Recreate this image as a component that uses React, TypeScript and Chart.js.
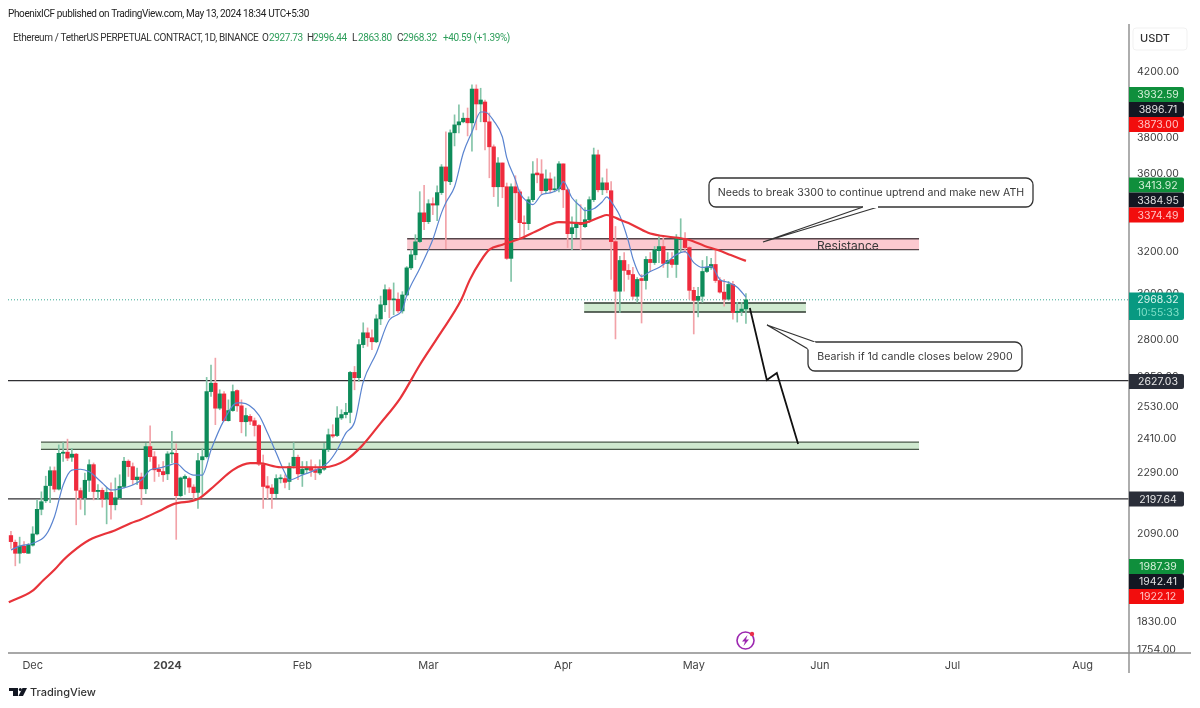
import React, { useEffect, useRef } from "react";
import { Chart, registerables } from "chart.js";

Chart.register(...registerables);

// ETHUSDT perp daily candles, Nov 26 2023 -> May 13 2024. Days are counted from Dec 1 2023
const firstCandleDay = -5;

const opens = [
  2079, 2058, 2024, 2046, 2024, 2049, 2084, 2163, 2191, 2242,
  2293, 2230, 2354, 2358, 2340, 2351, 2225, 2201, 2260, 2314,
  2222, 2226, 2197, 2219, 2178, 2201, 2239, 2326, 2307, 2262,
  2271, 2231, 2378, 2342, 2298, 2290, 2282, 2352, 2354, 2208,
  2266, 2266, 2237, 2219, 2331, 2342, 2584, 2617, 2520, 2575,
  2473, 2511, 2588, 2529, 2469, 2489, 2473, 2455, 2314, 2241,
  2234, 2215, 2265, 2266, 2256, 2310, 2340, 2282, 2296, 2305,
  2296, 2285, 2298, 2368, 2421, 2418, 2483, 2496, 2504, 2660,
  2639, 2774, 2824, 2803, 2786, 2884, 2946, 3014, 2968, 2971,
  2919, 2990, 3115, 3177, 3241, 3385, 3340, 3432, 3425, 3490,
  3628, 3548, 3820, 3866, 3884, 3905, 3878, 4081, 3990, 4002,
  3884, 3740, 3521, 3650, 3521, 3160, 3521, 3494, 3335, 3330,
  3453, 3595, 3590, 3500, 3563, 3505, 3510, 3645, 3505, 3280,
  3310, 3330, 3315, 3350, 3453, 3695, 3505, 3542, 3500, 3241,
  3007, 3150, 3103, 3084, 2984, 3065, 3056, 3155, 3140, 3197,
  3217, 3136, 3155, 3131, 3251, 3256, 3212, 3011, 2966, 2984,
  3098, 3117, 3131, 3056, 3003, 2971, 3038, 2912, 2917, 2927.73,
];

const highs = [
  2092, 2065, 2074, 2060, 2054, 2107, 2194, 2221, 2274, 2306,
  2306, 2384, 2392, 2405, 2372, 2354, 2234, 2285, 2331, 2320,
  2245, 2234, 2234, 2251, 2268, 2279, 2340, 2331, 2320, 2302,
  2285, 2390, 2454, 2360, 2314, 2325, 2360, 2433, 2388, 2271,
  2279, 2271, 2245, 2354, 2372, 2640, 2690, 2718, 2591, 2584,
  2552, 2610, 2591, 2552, 2520, 2496, 2483, 2458, 2348, 2273,
  2245, 2279, 2279, 2279, 2320, 2392, 2348, 2325, 2325, 2331,
  2314, 2331, 2390, 2442, 2458, 2526, 2514, 2539, 2664, 2684,
  2795, 2867, 2845, 2837, 2902, 2985, 3036, 3023, 3045, 3000,
  3005, 3121, 3201, 3275, 3495, 3528, 3453, 3463, 3526, 3641,
  3825, 3837, 3925, 3985, 3936, 3966, 4107, 4107, 4086, 4014,
  3936, 3751, 3680, 3650, 3541, 3536, 3580, 3505, 3370, 3468,
  3657, 3674, 3668, 3612, 3596, 3574, 3657, 3645, 3515, 3365,
  3453, 3427, 3412, 3468, 3733, 3722, 3569, 3617, 3548, 3316,
  3170, 3188, 3131, 3117, 3070, 3084, 3169, 3188, 3217, 3266,
  3261, 3188, 3188, 3276, 3355, 3286, 3217, 3025, 3025, 3150,
  3169, 3160, 3202, 3070, 3061, 3052, 3052, 2957, 2957, 2996.44,
];

const lows = [
  2039, 1986, 1994, 2024, 2024, 2046, 2081, 2145, 2185, 2185,
  2221, 2227, 2325, 2328, 2325, 2113, 2163, 2145, 2222, 2194,
  2195, 2170, 2116, 2131, 2161, 2195, 2234, 2273, 2245, 2245,
  2178, 2215, 2325, 2256, 2273, 2256, 2262, 2320, 2067, 2204,
  2212, 2218, 2197, 2166, 2212, 2337, 2565, 2458, 2514, 2471,
  2471, 2508, 2508, 2428, 2416, 2458, 2416, 2310, 2166, 2197,
  2166, 2201, 2251, 2234, 2228, 2302, 2262, 2239, 2285, 2273,
  2262, 2279, 2294, 2360, 2410, 2414, 2477, 2483, 2465, 2591,
  2624, 2761, 2767, 2753, 2782, 2859, 2916, 2889, 2902, 2911,
  2909, 2985, 3106, 3154, 3236, 3300, 3330, 3376, 3345, 3480,
  3207, 3532, 3745, 3820, 3878, 3802, 3716, 3837, 3884, 3722,
  3569, 3469, 3418, 3463, 3155, 3052, 3350, 3261, 3265, 3300,
  3443, 3542, 3479, 3489, 3489, 3494, 3494, 3412, 3212, 3202,
  3261, 3202, 3310, 3335, 3443, 3494, 3479, 3489, 3061, 2798,
  2912, 3007, 3061, 2971, 2957, 2866, 3016, 3098, 3131, 3140,
  3117, 3070, 3117, 3070, 3188, 3188, 2971, 2819, 2892, 2957,
  3093, 3108, 3047, 2998, 2940, 2966, 2883, 2870, 2898, 2863.8,
];

const closes = [
  2060, 2024, 2046, 2026, 2049, 2084, 2163, 2188, 2240, 2293,
  2230, 2354, 2358, 2337, 2351, 2226, 2201, 2260, 2314, 2222,
  2226, 2197, 2219, 2178, 2201, 2239, 2326, 2307, 2262, 2271,
  2231, 2378, 2342, 2296, 2290, 2279, 2352, 2354, 2208, 2268,
  2273, 2237, 2218, 2328, 2342, 2584, 2617, 2520, 2575, 2473,
  2511, 2584, 2529, 2469, 2492, 2471, 2455, 2316, 2239, 2234,
  2215, 2266, 2268, 2253, 2307, 2340, 2282, 2298, 2302, 2294,
  2287, 2298, 2368, 2421, 2416, 2483, 2496, 2504, 2660, 2639,
  2774, 2824, 2803, 2786, 2884, 2946, 3014, 2968, 2971, 2919,
  2990, 3115, 3177, 3240, 3385, 3340, 3432, 3425, 3490, 3628,
  3552, 3820, 3866, 3884, 3905, 3878, 4081, 3990, 4014, 3884,
  3740, 3521, 3650, 3521, 3160, 3521, 3489, 3335, 3330, 3453,
  3590, 3585, 3500, 3563, 3505, 3510, 3645, 3505, 3280, 3310,
  3330, 3325, 3350, 3453, 3695, 3505, 3542, 3505, 3241, 3007,
  3150, 3103, 3084, 2984, 3061, 3056, 3155, 3140, 3202, 3217,
  3136, 3150, 3131, 3256, 3256, 3212, 3011, 2966, 2984, 3098,
  3117, 3131, 3056, 3003, 2971, 3038, 2912, 2917, 2927, 2968.32,
];

// thin blue average
const fastMaDays = [
  -5, -3, 0, 3, 5, 7, 9, 11, 13, 16, 18, 20, 23, 25, 27, 29, 31, 33, 35, 37, 38, 39,
  41, 44, 47, 48, 52, 54, 56, 58, 59, 62, 66, 68, 70, 72, 74, 76, 79, 82, 85, 86, 89,
  91, 92, 94, 95, 97, 99, 101, 103, 104, 106, 108, 109, 111, 112, 114, 115, 117, 119,
  121, 122, 124, 126, 127, 129, 131, 132, 133, 134, 135, 137, 138, 140, 142, 144, 146,
  148, 150, 152, 154, 156, 158, 160, 162, 164,
];
const fastMaValues = [
  2034, 2046, 2055, 2080, 2139, 2244, 2295, 2298, 2289, 2251, 2227, 2231, 2244, 2261,
  2295, 2302, 2310, 2318, 2293, 2278, 2278, 2278, 2366, 2475, 2540, 2540, 2494, 2427,
  2355, 2285, 2261, 2278, 2302, 2323, 2366, 2427, 2467, 2622, 2738, 2879, 2923, 2989,
  3112, 3202, 3251, 3385, 3437, 3521, 3705, 3825, 3942, 3942, 3890, 3796, 3679, 3558,
  3489, 3437, 3427, 3479, 3489, 3510, 3548, 3463, 3417, 3396, 3406, 3443, 3468, 3443,
  3410, 3370, 3241, 3160, 3075, 3098, 3117, 3145, 3178, 3192, 3140, 3117, 3122, 3061,
  3047, 3025, 2980,
];

// thick red average
const slowMaDays = [
  -5.5, 0, 2.5, 5, 7, 9, 13, 19, 22.5, 25, 29, 32.5, 38, 42, 46, 50, 52, 57, 62, 67,
  72, 75.5, 80, 84.5, 89, 93.5, 98.5, 100.5, 103, 105, 108, 112, 116.5, 121, 126.5,
  130.5, 132, 135, 137, 141.5, 144.5, 148.5, 151, 154.5, 157.5, 160.5, 164,
];
const slowMaValues = [
  1880, 1913, 1944, 1974, 2003, 2027, 2065, 2096, 2118, 2131, 2157, 2181, 2197, 2244,
  2295, 2319, 2319, 2305, 2305, 2305, 2330, 2377, 2464, 2558, 2690, 2815, 2967, 3059,
  3148, 3202, 3226, 3255, 3300, 3338, 3333, 3364, 3374, 3350, 3333, 3285, 3270, 3259,
  3249, 3220, 3200, 3176, 3148,
];

const priceTicks = [4200, 3800, 3600, 3200, 3000, 2800, 2650, 2530, 2410, 2290, 2090, 1830, 1754];
const monthTicks = [0, 31, 62, 91, 122, 152, 181, 211.5, 241.4];
const monthLabels = ["Dec", "2024", "Feb", "Mar", "Apr", "May", "Jun", "Jul", "Aug"];

const levelPrices = [2627.03, 2197.64];
const lastPrice = 2968.32;

// drawn projection: days and prices of the hand-drawn arrow
const arrowDays = [164.9, 168.8, 171.1, 176];
const arrowPrices = [2932, 2630, 2658, 2387];

const zones = [
  { from: 86.1, to: 203.8, top: 3255, bottom: 3202, fill: "#fbc9d0", line: "#55454a" },
  { from: 126.8, to: 177.8, top: 2954, bottom: 2914, fill: "#cfe9cf", line: "#2f3a30" },
  { from: 1.9, to: 203.8, top: 2394, bottom: 2368, fill: "#cfe9cf", line: "#4a5a4a" },
];

const priceTags = [
  { text: "3932.59", top: 87, bg: "#0f8f3c", fg: "#d4f0d8" },
  { text: "3896.71", top: 102, bg: "#131722", fg: "#e0e0e0" },
  { text: "3873.00", top: 117, bg: "#f20d0d", fg: "#ffc4c4" },
  { text: "3413.92", top: 177.5, bg: "#0f8f3c", fg: "#d4f0d8" },
  { text: "3384.95", top: 192.5, bg: "#131722", fg: "#e0e0e0" },
  { text: "3374.49", top: 207.5, bg: "#f20d0d", fg: "#ffc4c4" },
  { text: "2627.03", top: 374, bg: "#2a2e39", fg: "#e8e8e8" },
  { text: "2197.64", top: 491.5, bg: "#2a2e39", fg: "#e8e8e8" },
  { text: "1987.39", top: 559, bg: "#0f8f3c", fg: "#d4f0d8" },
  { text: "1942.41", top: 574, bg: "#131722", fg: "#e0e0e0" },
  { text: "1922.12", top: 589, bg: "#f20d0d", fg: "#ffc4c4" },
];

const FONT = "Inter, 'Noto Sans', sans-serif";
const HEADER_FONT = "Roboto, 'Noto Sans', sans-serif";
const UP = "#0e8c5a";
const DOWN = "#ef2b3d";
const UP_WICK = "#83c4a8";
const DOWN_WICK = "#f2a2a8";
const OHLC_GREEN = "#2e9e5b";

const AXIS_X = 1129;
const AXIS_Y = 653;

function pairs(xs: number[], ys: number[]) {
  return xs.map((x, i) => ({ x, y: ys[i] }));
}

function callout(
  ctx: CanvasRenderingContext2D,
  box: { x: number; y: number; w: number; h: number },
  tail: number[][],
  text: string
) {
  ctx.save();
  ctx.fillStyle = "#fff";
  ctx.strokeStyle = "#333";
  ctx.lineWidth = 1.3;
  ctx.beginPath();
  ctx.roundRect(box.x, box.y, box.w, box.h, 7);
  ctx.fill();
  ctx.stroke();
  // tail sits on the box edge, white stroke hides the edge between the two legs
  ctx.beginPath();
  ctx.moveTo(tail[0][0], tail[0][1]);
  ctx.lineTo(tail[1][0], tail[1][1]);
  ctx.lineTo(tail[2][0], tail[2][1]);
  ctx.fill();
  ctx.stroke();
  ctx.strokeStyle = "#fff";
  ctx.lineWidth = 2;
  ctx.beginPath();
  ctx.moveTo(tail[0][0], tail[0][1]);
  ctx.lineTo(tail[2][0], tail[2][1]);
  ctx.stroke();
  ctx.fillStyle = "#3a3a3a";
  ctx.font = `10.6px ${FONT}`;
  ctx.textAlign = "center";
  ctx.textBaseline = "middle";
  ctx.fillText(text, box.x + box.w / 2, box.y + box.h / 2 + 0.5);
  ctx.restore();
}

const drawingsPlugin = {
  id: "drawings",
  beforeDatasetsDraw(chart: any) {
    const { ctx, scales } = chart;
    for (const z of zones) {
      const x0 = scales.x.getPixelForValue(z.from);
      const x1 = scales.x.getPixelForValue(z.to);
      const y0 = scales.y.getPixelForValue(z.top);
      const y1 = scales.y.getPixelForValue(z.bottom);
      ctx.fillStyle = z.fill;
      ctx.fillRect(x0, y0, x1 - x0, y1 - y0);
      ctx.strokeStyle = z.line;
      ctx.lineWidth = 1.3;
      ctx.beginPath();
      ctx.moveTo(x0, y0);
      ctx.lineTo(x1, y0);
      ctx.moveTo(x0, y1);
      ctx.lineTo(x1, y1);
      ctx.stroke();
    }
  },
  afterDatasetsDraw(chart: any) {
    const { ctx } = chart;
    ctx.save();
    ctx.fillStyle = "#3a3a3a";
    ctx.font = `12px ${FONT}`;
    ctx.textAlign = "left";
    ctx.textBaseline = "middle";
    ctx.fillText("Resistance", 817, 246);
    ctx.restore();

    callout(
      ctx,
      { x: 709, y: 178, w: 324, h: 29 },
      [[863, 207], [763, 242], [878, 207]],
      "Needs to break 3300 to continue uptrend and make new ATH"
    );
    callout(
      ctx,
      { x: 808, y: 342, w: 214, h: 29 },
      [[815, 342], [767, 325], [808, 349]],
      "Bearish if 1d candle closes below 2900"
    );
  },
  afterDraw(chart: any) {
    const { ctx } = chart;
    ctx.save();

    ctx.strokeStyle = "#8c8c8c";
    ctx.lineWidth = 1.4;
    ctx.beginPath();
    ctx.moveTo(AXIS_X, 24);
    ctx.lineTo(AXIS_X, 673);
    ctx.moveTo(8, AXIS_Y);
    ctx.lineTo(1191, AXIS_Y);
    ctx.stroke();

    // USDT box
    ctx.strokeStyle = "#f1f1f1";
    ctx.lineWidth = 1;
    ctx.beginPath();
    ctx.roundRect(1133, 28, 54, 22, 3);
    ctx.stroke();
    ctx.fillStyle = "#333";
    ctx.font = `500 11px ${FONT}`;
    ctx.textAlign = "center";
    ctx.textBaseline = "middle";
    ctx.fillText("USDT", 1155, 39);

    // price tags on the axis
    ctx.font = `10.5px ${FONT}`;
    for (const tag of priceTags) {
      ctx.fillStyle = tag.bg;
      ctx.beginPath();
      ctx.roundRect(AXIS_X, tag.top, 55, 15, [0, 2, 2, 0]);
      ctx.fill();
      ctx.fillStyle = tag.fg;
      ctx.fillText(tag.text, 1158, tag.top + 8);
    }
    ctx.fillStyle = "#089981";
    ctx.beginPath();
    ctx.roundRect(AXIS_X, 292.5, 55, 27.5, [0, 2, 2, 0]);
    ctx.fill();
    ctx.fillStyle = "#d8f3ec";
    ctx.fillText("2968.32", 1158, 300);
    ctx.fillStyle = "#7fe0c8";
    ctx.fillText("10:55:33", 1158, 313);

    // header lines
    ctx.textAlign = "left";
    ctx.fillStyle = "#222";
    ctx.font = `10px ${HEADER_FONT}`;
    (ctx as any).letterSpacing = "-0.38px";
    ctx.fillText("PhoenixICF published on TradingView.com, May 13, 2024 18:34 UTC+5:30", 8, 14);

    ctx.fillStyle = "#333";
    ctx.fillText("Ethereum / TetherUS PERPETUAL CONTRACT, 1D, BINANCE", 13, 38);
    const ohlc: [string, string, number, number][] = [
      ["O", "2927.73", 262, 269],
      ["H", "2996.44", 307, 313],
      ["L", "2863.80", 352, 358],
      ["C", "2968.32", 397, 403],
    ];
    for (const [key, val, kx, vx] of ohlc) {
      ctx.fillStyle = "#333";
      ctx.fillText(key, kx, 38);
      ctx.fillStyle = OHLC_GREEN;
      ctx.fillText(val, vx, 38);
    }
    ctx.fillText("+40.59 (+1.39%)", 443, 38);
    (ctx as any).letterSpacing = "0px";

    // bolt badge near the time axis
    ctx.strokeStyle = "#9c27b0";
    ctx.lineWidth = 1.6;
    ctx.beginPath();
    ctx.arc(745.5, 640.5, 8.5, 0, Math.PI * 2);
    ctx.stroke();
    ctx.fillStyle = "#9c27b0";
    ctx.beginPath();
    ctx.moveTo(747.5, 635);
    ctx.lineTo(742, 641.5);
    ctx.lineTo(745, 641.5);
    ctx.lineTo(743.5, 646);
    ctx.lineTo(749, 639.5);
    ctx.lineTo(746, 639.5);
    ctx.closePath();
    ctx.fill();
    ctx.fillStyle = "#ea2f4a";
    ctx.beginPath();
    ctx.arc(752, 634, 2.2, 0, Math.PI * 2);
    ctx.fill();

    // footer mark
    ctx.fillStyle = "#131722";
    ctx.fillRect(9, 688, 9, 3);
    ctx.fillRect(13, 688, 5, 8);
    ctx.beginPath();
    ctx.arc(20.3, 689.5, 1.5, 0, Math.PI * 2);
    ctx.fill();
    ctx.beginPath();
    ctx.moveTo(22.5, 688);
    ctx.lineTo(27, 688);
    ctx.lineTo(23, 696);
    ctx.lineTo(18.5, 696);
    ctx.closePath();
    ctx.fill();
    ctx.fillStyle = "#333";
    ctx.font = `500 11px ${FONT}`;
    ctx.fillText("TradingView", 30, 692.5);

    ctx.restore();
  },
};

export default function App() {
  const canvasRef = useRef<HTMLCanvasElement>(null);

  useEffect(() => {
    if (!canvasRef.current) return;

    const days = opens.map((_, i) => firstCandleDay + i);
    const rising = opens.map((o, i) => closes[i] >= o);
    const xMin = -5.68;
    const xMax = 252.08;

    const chart = new Chart(canvasRef.current, {
      type: "bar",
      data: {
        datasets: [
          {
            data: days.map((x, i) => ({ x, y: [lows[i], highs[i]] })) as any,
            backgroundColor: rising.map((r) => (r ? UP_WICK : DOWN_WICK)),
            barThickness: 1,
            grouped: false,
            order: 5,
          },
          {
            data: days.map((x, i) => ({ x, y: [opens[i], closes[i]] })) as any,
            backgroundColor: rising.map((r) => (r ? UP : DOWN)),
            barThickness: 3.6,
            minBarLength: 1,
            grouped: false,
            order: 4,
          },
          ...levelPrices.map((p) => ({
            type: "line" as const,
            data: pairs([xMin, xMax], [p, p]),
            borderColor: "#2f2f33",
            borderWidth: 1.2,
            pointRadius: 0,
            order: 6,
          })),
          {
            type: "line" as const,
            data: pairs([xMin, xMax], [lastPrice, lastPrice]),
            borderColor: "#3aa893",
            borderWidth: 1,
            borderDash: [1, 2],
            pointRadius: 0,
            order: 6,
          },
          {
            type: "line" as const,
            data: pairs(fastMaDays, fastMaValues),
            borderColor: "#5a84d0",
            borderWidth: 1.2,
            pointRadius: 0,
            cubicInterpolationMode: "monotone" as const,
            order: 3,
          },
          {
            type: "line" as const,
            data: pairs(slowMaDays, slowMaValues),
            borderColor: "#e8333a",
            borderWidth: 2.2,
            pointRadius: 0,
            cubicInterpolationMode: "monotone" as const,
            order: 2,
          },
          {
            type: "line" as const,
            data: pairs(arrowDays, arrowPrices),
            borderColor: "#111",
            borderWidth: 1.8,
            pointRadius: 0,
            order: 1,
          },
        ] as any,
      },
      options: {
        responsive: false,
        animation: false,
        events: [],
        layout: { padding: { left: 8, top: 22, right: 0, bottom: 0 } },
        plugins: {
          legend: { display: false },
          tooltip: { enabled: false },
        },
        scales: {
          x: {
            type: "linear",
            min: xMin,
            max: xMax,
            offset: false,
            grid: { display: false, drawTicks: false },
            border: { display: false },
            afterFit: (scale: any) => {
              scale.height = 708 - AXIS_Y;
            },
            afterBuildTicks: (scale: any) => {
              scale.ticks = monthTicks.map((value) => ({ value }));
            },
            ticks: {
              autoSkip: false,
              maxRotation: 0,
              padding: 6,
              color: "#444",
              font: (ctx: any) =>
                ctx.tick && ctx.tick.value === 31
                  ? { family: FONT, size: 11, weight: "bold" }
                  : { family: FONT, size: 11 },
              callback: (value: any) => monthLabels[monthTicks.indexOf(Number(value))],
            },
          },
          y: {
            type: "logarithmic",
            position: "right",
            min: 1741,
            max: 4516,
            grid: { display: false, drawTicks: false },
            border: { display: false },
            afterFit: (scale: any) => {
              scale.width = 1200 - AXIS_X;
            },
            afterBuildTicks: (scale: any) => {
              scale.ticks = priceTicks.map((value) => ({ value }));
            },
            ticks: {
              autoSkip: false,
              padding: 8,
              labelOffset: 1.5,
              color: "#3c3c3c",
              font: { family: FONT, size: 10.5 },
              callback: (value: any) => Number(value).toFixed(2),
            },
          },
        },
      },
      plugins: [drawingsPlugin],
    } as any);

    return () => {
      chart.destroy();
    };
  }, []);

  return (
    <div style={{ position: "absolute", left: 0, top: 0, width: 1200, height: 708, background: "#fff" }}>
      <canvas ref={canvasRef} width={1200} height={708} style={{ display: "block" }} />
    </div>
  );
}
